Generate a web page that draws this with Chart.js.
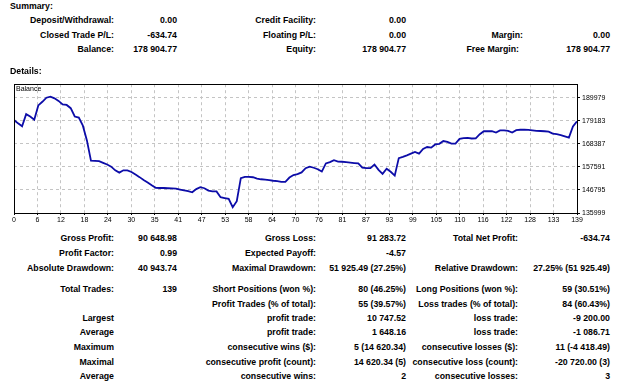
<!DOCTYPE html>
<html>
<head>
<meta charset="utf-8">
<script src="https://cdn.jsdelivr.net/npm/chart.js@4.4.0/dist/chart.umd.min.js"></script>
<style>
body { margin:0; background:#fff; width:625px; height:382px; position:relative; overflow:hidden;
  font-family:"Liberation Sans", Arial, sans-serif; font-weight:bold; font-size:8.75px; color:#000; }
.t { position:absolute; white-space:nowrap; line-height:12px; }
#chartBox { position:absolute; left:0; top:78px; width:625px; height:150px; }
#balLabel { position:absolute; left:16px; top:84px; font-weight:normal; font-size:7px; line-height:10px; }
</style>
</head>
<body>
<div id="chartBox"><canvas id="balanceChart" width="625" height="150"></canvas></div>
<div id="balLabel">Balance</div>
<script>
// balance after each closed trade (trade 0 .. 139)
var balance = [
  179540, 178000, 176600, 182300, 181200, 179700, 186400, 188100, 190000, 190500,
  189700, 188500, 186900, 186600, 185100, 181200, 180700, 176900, 170000, 160500,
  160400, 160300, 159500, 158700, 157700, 156000, 154900, 156000, 156000, 155200,
  154000, 152800, 151500, 150300, 149000, 147800, 147700, 147700, 147600, 147500,
  147400, 147000, 146600, 146200, 145700, 147200, 148100, 147600, 146500, 146150,
  146100, 143400, 143000, 142600, 138700, 141500, 152300, 152900, 152900, 152750,
  152100, 151800, 151600, 151400, 151100, 150900, 150600, 150600, 152600, 153800,
  154200, 155000, 157000, 157700, 157200, 156500, 155400, 159200, 159800, 160700,
  160100, 160000, 159800, 159600, 159400, 159200, 157200, 157000, 157000, 158700,
  156200, 154300, 156700, 155300, 153500, 161700, 162300, 163000, 163800, 164600,
  163800, 166000, 166900, 166600, 168100, 168400, 169700, 169300, 168500, 168500,
  170700, 171100, 171200, 170900, 171000, 172900, 174300, 174300, 174300, 173700,
  174700, 174700, 174500, 173700, 174800, 175000, 175000, 174900, 174700, 174500,
  174400, 174300, 174100, 173200, 172900, 172500, 171900, 171300, 176500, 178905
];
var xTickLabels = [0, 6, 12, 18, 24, 30, 35, 41, 47, 53, 58, 64, 70, 76, 81, 87, 93, 99, 105, 110, 116, 122, 128, 133, 139];
var yTicks = [135999, 146795, 157591, 168387, 179183, 189979];
var yMax = 196330;

// report texts: [text, x, y, align]
var texts = [
  ["Summary:", 10, 6, "l"],
  ["Deposit/Withdrawal:", 114, 20], ["0.00", 177, 20], ["Credit Facility:", 316, 20], ["0.00", 406, 20],
  ["Closed Trade P/L:", 114, 35], ["-634.74", 177, 35], ["Floating P/L:", 316, 35], ["0.00", 406, 35], ["Margin:", 523, 35], ["0.00", 610, 35],
  ["Balance:", 114, 49], ["178 904.77", 177, 49], ["Equity:", 316, 49], ["178 904.77", 406, 49], ["Free Margin:", 519, 49], ["178 904.77", 610, 49],
  ["Details:", 10, 71, "l"],
  ["Gross Profit:", 114, 238], ["90 648.98", 177, 238], ["Gross Loss:", 316, 238], ["91 283.72", 406, 238], ["Total Net Profit:", 518, 238], ["-634.74", 610, 238],
  ["Profit Factor:", 114, 253], ["0.99", 177, 253], ["Expected Payoff:", 316, 253], ["-4.57", 406, 253],
  ["Absolute Drawdown:", 114, 268], ["40 943.74", 177, 268], ["Maximal Drawdown:", 316, 268], ["51 925.49 (27.25%)", 406, 268], ["Relative Drawdown:", 518, 268], ["27.25% (51 925.49)", 610, 268],
  ["Total Trades:", 114, 289], ["139", 177, 289], ["Short Positions (won %):", 316, 289], ["80 (46.25%)", 406, 289], ["Long Positions (won %):", 518, 289], ["59 (30.51%)", 610, 289],
  ["Profit Trades (% of total):", 316, 304], ["55 (39.57%)", 406, 304], ["Loss trades (% of total):", 518, 304], ["84 (60.43%)", 610, 304],
  ["Largest", 114, 318], ["profit trade:", 316, 318], ["10 747.52", 406, 318], ["loss trade:", 518, 318], ["-9 200.00", 610, 318],
  ["Average", 114, 332], ["profit trade:", 316, 332], ["1 648.16", 406, 332], ["loss trade:", 518, 332], ["-1 086.71", 610, 332],
  ["Maximum", 114, 347], ["consecutive wins ($):", 316, 347], ["5 (14 620.34)", 406, 347], ["consecutive losses ($):", 518, 347], ["11 (-4 418.49)", 610, 347],
  ["Maximal", 114, 362], ["consecutive profit (count):", 316, 362], ["14 620.34 (5)", 406, 362], ["consecutive loss (count):", 518, 362], ["-20 720.00 (3)", 610, 362],
  ["Average", 114, 376], ["consecutive wins:", 316, 376], ["2", 406, 376], ["consecutive losses:", 518, 376], ["3", 610, 376]
];
texts.forEach(function (t) {
  var d = document.createElement("div");
  d.className = "t";
  d.textContent = t[0];
  d.style.top = (t[2] - 6) + "px";
  if (t[3] === "l") d.style.left = t[1] + "px";
  else d.style.right = (625 - t[1]) + "px";
  document.body.appendChild(d);
});

var frame = {
  id: "frame",
  afterDraw: function (chart) {
    var a = chart.chartArea, c = chart.ctx;
    c.save();
    c.strokeStyle = "#000";
    c.lineWidth = 1;
    c.strokeRect(Math.round(a.left) + 0.5, Math.round(a.top) + 0.5, Math.round(a.right - a.left), Math.round(a.bottom - a.top));
    c.restore();
  }
};

var ctx = document.getElementById("balanceChart").getContext("2d");
var myChart = new Chart(ctx, {
  type: "line",
  data: {
    datasets: [{
      data: balance.map(function (v, i) { return { x: i, y: v }; }),
      borderColor: "#0c0ca8",
      borderWidth: 1.8,
      pointRadius: 0,
      tension: 0
    }]
  },
  options: {
    responsive: false,
    animation: false,
    layout: { padding: { left: 14, top: 5, right: 0, bottom: 0 } },
    plugins: { legend: { display: false }, tooltip: { enabled: false } },
    scales: {
      x: {
        type: "linear",
        min: 0,
        max: 139,
        afterBuildTicks: function (s) {
          s.ticks = xTickLabels.map(function (v, i) { return { value: i * 139 / 24 }; });
        },
        afterFit: function (s) { s.height = 15; },
        ticks: {
          autoSkip: false, maxRotation: 0, padding: 1, color: "#000",
          font: { family: "Liberation Sans", size: 7 },
          callback: function (v, i) { return String(xTickLabels[i]); }
        },
        grid: { color: "#c4c4c4", tickColor: "#000", tickLength: 2 },
        border: { display: false, dash: [3, 3] }
      },
      y: {
        position: "right",
        min: yTicks[0],
        max: yMax,
        afterBuildTicks: function (s) {
          s.ticks = yTicks.map(function (v) { return { value: v }; });
        },
        afterFit: function (s) { s.width = 48; },
        ticks: {
          padding: 2, color: "#000",
          font: { family: "Liberation Sans", size: 7 },
          callback: function (v) { return String(v); }
        },
        grid: { color: "#c4c4c4", tickColor: "#000", tickLength: 3 },
        border: { display: false, dash: [3, 3] }
      }
    }
  },
  plugins: [frame]
});
</script>
</body>
</html>
